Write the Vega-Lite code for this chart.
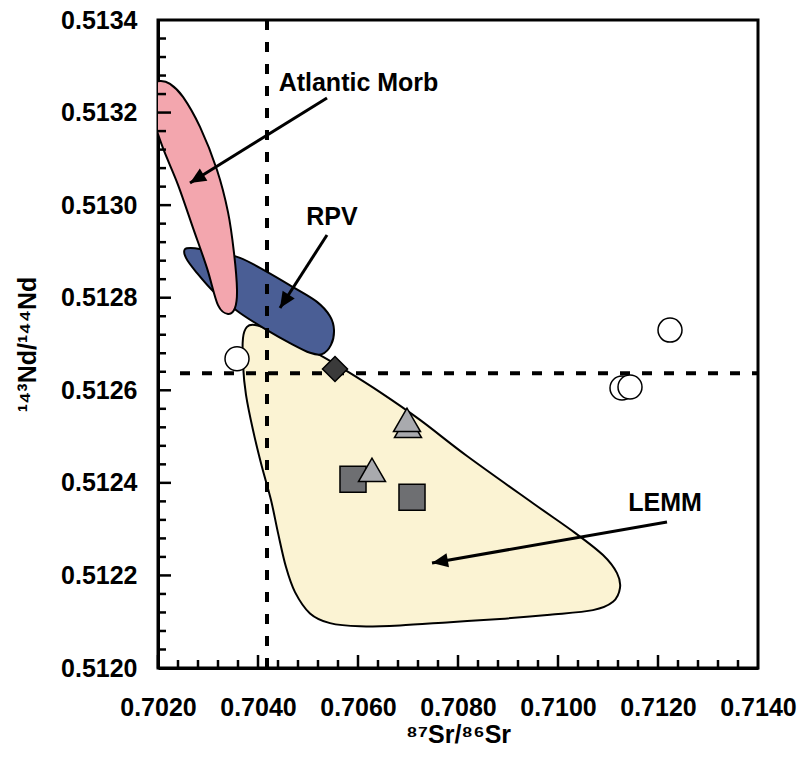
{
  "$schema": "https://vega.github.io/schema/vega-lite/v6.json",
  "width": 600,
  "height": 648,
  "autosize": {"type": "none"},
  "padding": {"left": 158, "top": 20, "right": 41, "bottom": 92},
  "background": "white",
  "view": {"stroke": "black", "strokeWidth": 3},
  "config": {
    "axis": {
      "domainColor": "black", "domainWidth": 3, "ticks": false,
      "labelFont": "Liberation Sans", "labelFontWeight": "bold", "labelFontSize": 25, "labelColor": "black",
      "titleFont": "Liberation Sans", "titleFontWeight": "bold", "titleFontSize": 25, "titleColor": "black",
      "grid": false, "labelFlush": false, "labelOverlap": false
    }
  },
  "datasets": {
    "regions": [
      {"shape": "LEMM", "i": 1, "x": 0.7037, "y": 0.512713},
      {"shape": "LEMM", "i": 2, "x": 0.70378, "y": 0.512737},
      {"shape": "LEMM", "i": 3, "x": 0.70394, "y": 0.512741},
      {"shape": "LEMM", "i": 4, "x": 0.70424, "y": 0.51273},
      {"shape": "LEMM", "i": 5, "x": 0.70474, "y": 0.512704},
      {"shape": "LEMM", "i": 6, "x": 0.70524, "y": 0.512676},
      {"shape": "LEMM", "i": 7, "x": 0.70574, "y": 0.512644},
      {"shape": "LEMM", "i": 8, "x": 0.70644, "y": 0.512596},
      {"shape": "LEMM", "i": 9, "x": 0.70724, "y": 0.512536},
      {"shape": "LEMM", "i": 10, "x": 0.70818, "y": 0.512458},
      {"shape": "LEMM", "i": 11, "x": 0.7095, "y": 0.512356},
      {"shape": "LEMM", "i": 12, "x": 0.71034, "y": 0.512292},
      {"shape": "LEMM", "i": 13, "x": 0.7109, "y": 0.512244},
      {"shape": "LEMM", "i": 14, "x": 0.71118, "y": 0.512205},
      {"shape": "LEMM", "i": 15, "x": 0.71124, "y": 0.512173},
      {"shape": "LEMM", "i": 16, "x": 0.7111, "y": 0.512143},
      {"shape": "LEMM", "i": 17, "x": 0.7107, "y": 0.512125},
      {"shape": "LEMM", "i": 18, "x": 0.70984, "y": 0.512115},
      {"shape": "LEMM", "i": 19, "x": 0.70884, "y": 0.512106},
      {"shape": "LEMM", "i": 20, "x": 0.70784, "y": 0.512099},
      {"shape": "LEMM", "i": 21, "x": 0.70684, "y": 0.512092},
      {"shape": "LEMM", "i": 22, "x": 0.70604, "y": 0.51209},
      {"shape": "LEMM", "i": 23, "x": 0.70544, "y": 0.512097},
      {"shape": "LEMM", "i": 24, "x": 0.70504, "y": 0.512118},
      {"shape": "LEMM", "i": 25, "x": 0.70474, "y": 0.512164},
      {"shape": "LEMM", "i": 26, "x": 0.70456, "y": 0.512218},
      {"shape": "LEMM", "i": 27, "x": 0.7044, "y": 0.512292},
      {"shape": "LEMM", "i": 28, "x": 0.70426, "y": 0.512363},
      {"shape": "LEMM", "i": 29, "x": 0.70408, "y": 0.512434},
      {"shape": "LEMM", "i": 30, "x": 0.7039, "y": 0.512514},
      {"shape": "LEMM", "i": 31, "x": 0.70376, "y": 0.51259},
      {"shape": "LEMM", "i": 32, "x": 0.7037, "y": 0.512655},
      {"shape": "RPV", "i": 1, "x": 0.70254, "y": 0.512905},
      {"shape": "RPV", "i": 2, "x": 0.70274, "y": 0.512907},
      {"shape": "RPV", "i": 3, "x": 0.70314, "y": 0.512899},
      {"shape": "RPV", "i": 4, "x": 0.70364, "y": 0.512886},
      {"shape": "RPV", "i": 5, "x": 0.70418, "y": 0.512856},
      {"shape": "RPV", "i": 6, "x": 0.7047, "y": 0.512823},
      {"shape": "RPV", "i": 7, "x": 0.70518, "y": 0.512791},
      {"shape": "RPV", "i": 8, "x": 0.70544, "y": 0.51276},
      {"shape": "RPV", "i": 9, "x": 0.70552, "y": 0.51273},
      {"shape": "RPV", "i": 10, "x": 0.70546, "y": 0.512698},
      {"shape": "RPV", "i": 11, "x": 0.70528, "y": 0.512678},
      {"shape": "RPV", "i": 12, "x": 0.70504, "y": 0.512681},
      {"shape": "RPV", "i": 13, "x": 0.70464, "y": 0.512702},
      {"shape": "RPV", "i": 14, "x": 0.70418, "y": 0.51273},
      {"shape": "RPV", "i": 15, "x": 0.70364, "y": 0.512767},
      {"shape": "RPV", "i": 16, "x": 0.70314, "y": 0.51281},
      {"shape": "RPV", "i": 17, "x": 0.70276, "y": 0.512856},
      {"shape": "RPV", "i": 18, "x": 0.70256, "y": 0.512886},
      {"shape": "MORB", "i": 1, "x": 0.70188, "y": 0.51326},
      {"shape": "MORB", "i": 2, "x": 0.70204, "y": 0.513268},
      {"shape": "MORB", "i": 3, "x": 0.70224, "y": 0.513262},
      {"shape": "MORB", "i": 4, "x": 0.7025, "y": 0.513234},
      {"shape": "MORB", "i": 5, "x": 0.70284, "y": 0.513169},
      {"shape": "MORB", "i": 6, "x": 0.70318, "y": 0.513076},
      {"shape": "MORB", "i": 7, "x": 0.7034, "y": 0.512985},
      {"shape": "MORB", "i": 8, "x": 0.70352, "y": 0.512897},
      {"shape": "MORB", "i": 9, "x": 0.70358, "y": 0.512817},
      {"shape": "MORB", "i": 10, "x": 0.70354, "y": 0.512778},
      {"shape": "MORB", "i": 11, "x": 0.7034, "y": 0.512765},
      {"shape": "MORB", "i": 12, "x": 0.7032, "y": 0.512784},
      {"shape": "MORB", "i": 13, "x": 0.70298, "y": 0.512864},
      {"shape": "MORB", "i": 14, "x": 0.7027, "y": 0.512951},
      {"shape": "MORB", "i": 15, "x": 0.7024, "y": 0.513044},
      {"shape": "MORB", "i": 16, "x": 0.7021, "y": 0.513123},
      {"shape": "MORB", "i": 17, "x": 0.7019, "y": 0.513188},
      {"shape": "MORB", "i": 18, "x": 0.70182, "y": 0.513231}
    ],
    "points": [
      {"type": "circle", "x": 0.70358, "y": 0.512668},
      {"type": "circle", "x": 0.71224, "y": 0.51273},
      {"type": "circle", "x": 0.71128, "y": 0.512605},
      {"type": "circle", "x": 0.71144, "y": 0.512607},
      {"type": "diamond", "x": 0.70554, "y": 0.512646},
      {"type": "square", "x": 0.7059, "y": 0.512408},
      {"type": "square", "x": 0.70708, "y": 0.512369},
      {"type": "triangle", "x": 0.70628, "y": 0.512428},
      {"type": "triangle", "x": 0.707, "y": 0.512523},
      {"type": "triangle", "x": 0.70698, "y": 0.512536}
    ],
    "arrows": [
      {"name": "MORB", "x": 0.70538, "y": 0.5132315, "x2": 0.70264, "y2": 0.5130478},
      {"name": "RPV", "x": 0.70538, "y": 0.5129355, "x2": 0.70444, "y2": 0.5127778},
      {"name": "LEMM", "x": 0.71218, "y": 0.5123154, "x2": 0.70748, "y2": 0.5122269}
    ],
    "labels": [
      {"label": "Atlantic Morb", "x": 0.70601, "y": 0.513264},
      {"label": "RPV", "x": 0.70548, "y": 0.512974},
      {"label": "LEMM", "x": 0.71214, "y": 0.512357}
    ],
    "xticks": [
      {"v": 0.702, "kind": "major"}, {"v": 0.7024, "kind": "minor"}, {"v": 0.7028, "kind": "minor"}, {"v": 0.7032, "kind": "minor"}, {"v": 0.7036, "kind": "minor"},
      {"v": 0.704, "kind": "major"}, {"v": 0.7044, "kind": "minor"}, {"v": 0.7048, "kind": "minor"}, {"v": 0.7052, "kind": "minor"}, {"v": 0.7056, "kind": "minor"},
      {"v": 0.706, "kind": "major"}, {"v": 0.7064, "kind": "minor"}, {"v": 0.7068, "kind": "minor"}, {"v": 0.7072, "kind": "minor"}, {"v": 0.7076, "kind": "minor"},
      {"v": 0.708, "kind": "major"}, {"v": 0.7084, "kind": "minor"}, {"v": 0.7088, "kind": "minor"}, {"v": 0.7092, "kind": "minor"}, {"v": 0.7096, "kind": "minor"},
      {"v": 0.71, "kind": "major"}, {"v": 0.7104, "kind": "minor"}, {"v": 0.7108, "kind": "minor"}, {"v": 0.7112, "kind": "minor"}, {"v": 0.7116, "kind": "minor"},
      {"v": 0.712, "kind": "major"}, {"v": 0.7124, "kind": "minor"}, {"v": 0.7128, "kind": "minor"}, {"v": 0.7132, "kind": "minor"}, {"v": 0.7136, "kind": "minor"}
    ],
    "yticks": [
      {"v": 0.51204, "kind": "minor"}, {"v": 0.51208, "kind": "minor"}, {"v": 0.51212, "kind": "minor"}, {"v": 0.51216, "kind": "minor"},
      {"v": 0.5122, "kind": "major"}, {"v": 0.51224, "kind": "minor"}, {"v": 0.51228, "kind": "minor"}, {"v": 0.51232, "kind": "minor"}, {"v": 0.51236, "kind": "minor"},
      {"v": 0.5124, "kind": "major"}, {"v": 0.51244, "kind": "minor"}, {"v": 0.51248, "kind": "minor"}, {"v": 0.51252, "kind": "minor"}, {"v": 0.51256, "kind": "minor"},
      {"v": 0.5126, "kind": "major"}, {"v": 0.51264, "kind": "minor"}, {"v": 0.51268, "kind": "minor"}, {"v": 0.51272, "kind": "minor"}, {"v": 0.51276, "kind": "minor"},
      {"v": 0.5128, "kind": "major"}, {"v": 0.51284, "kind": "minor"}, {"v": 0.51288, "kind": "minor"}, {"v": 0.51292, "kind": "minor"}, {"v": 0.51296, "kind": "minor"},
      {"v": 0.513, "kind": "major"}, {"v": 0.51304, "kind": "minor"}, {"v": 0.51308, "kind": "minor"}, {"v": 0.51312, "kind": "minor"}, {"v": 0.51316, "kind": "minor"},
      {"v": 0.5132, "kind": "major"}, {"v": 0.51324, "kind": "minor"}, {"v": 0.51328, "kind": "minor"}, {"v": 0.51332, "kind": "minor"}, {"v": 0.51336, "kind": "minor"}
    ]
  },
  "layer": [
    {
      "data": {"name": "regions"},
      "transform": [{"filter": "datum.shape === 'LEMM'"}],
      "mark": {"type": "line", "interpolate": "cardinal-closed", "fill": "#FBF3D3", "stroke": "black", "strokeWidth": 2, "clip": true},
      "encoding": {
        "x": {"field": "x", "type": "quantitative", "scale": {"domain": [0.702, 0.714], "nice": false, "zero": false},
          "axis": {"title": "⁸⁷Sr/⁸⁶Sr", "titlePadding": 2,
            "values": [0.702, 0.704, 0.706, 0.708, 0.71, 0.712, 0.714],
            "format": ".4f",
            "labelPadding": 27}},
        "y": {"field": "y", "type": "quantitative", "scale": {"domain": [0.512, 0.5134], "nice": false, "zero": false},
          "axis": {"title": "¹⁴³Nd/¹⁴⁴Nd", "titlePadding": 20,
            "values": [0.512, 0.5122, 0.5124, 0.5126, 0.5128, 0.513, 0.5132, 0.5134],
            "format": ".4f",
            "labelPadding": 21}},
        "order": {"field": "i", "type": "quantitative"}
      }
    },
    {
      "data": {"name": "regions"},
      "transform": [{"filter": "datum.shape === 'RPV'"}],
      "mark": {"type": "line", "interpolate": "cardinal-closed", "fill": "#4A5E95", "stroke": "black", "strokeWidth": 2, "clip": true},
      "encoding": {
        "x": {"field": "x", "type": "quantitative"},
        "y": {"field": "y", "type": "quantitative"},
        "order": {"field": "i", "type": "quantitative"}
      }
    },
    {
      "data": {"name": "regions"},
      "transform": [{"filter": "datum.shape === 'MORB'"}],
      "mark": {"type": "line", "interpolate": "cardinal-closed", "fill": "#F3A6AE", "stroke": "black", "strokeWidth": 2, "clip": true},
      "encoding": {
        "x": {"field": "x", "type": "quantitative"},
        "y": {"field": "y", "type": "quantitative"},
        "order": {"field": "i", "type": "quantitative"}
      }
    },
    {
      "data": {"name": "xticks"},
      "transform": [{"filter": "datum.kind === 'major'"}],
      "mark": {"type": "rule", "color": "black", "strokeWidth": 2.5},
      "encoding": {
        "x": {"field": "v", "type": "quantitative"},
        "y": {"datum": 0.512, "type": "quantitative"},
        "y2": {"datum": 0.5120281}
      }
    },
    {
      "data": {"name": "xticks"},
      "transform": [{"filter": "datum.kind === 'minor'"}],
      "mark": {"type": "rule", "color": "black", "strokeWidth": 2.5},
      "encoding": {
        "x": {"field": "v", "type": "quantitative"},
        "y": {"datum": 0.512, "type": "quantitative"},
        "y2": {"datum": 0.5120173}
      }
    },
    {
      "data": {"name": "yticks"},
      "transform": [{"filter": "datum.kind === 'major'"}],
      "mark": {"type": "rule", "color": "black", "strokeWidth": 2.5},
      "encoding": {
        "y": {"field": "v", "type": "quantitative"},
        "x": {"datum": 0.702, "type": "quantitative"},
        "x2": {"datum": 0.70226}
      }
    },
    {
      "data": {"name": "yticks"},
      "transform": [{"filter": "datum.kind === 'minor'"}],
      "mark": {"type": "rule", "color": "black", "strokeWidth": 2.5},
      "encoding": {
        "y": {"field": "v", "type": "quantitative"},
        "x": {"datum": 0.702, "type": "quantitative"},
        "x2": {"datum": 0.70216}
      }
    },
    {
      "data": {"values": [{"x": 0.70418}]},
      "mark": {"type": "rule", "color": "black", "strokeWidth": 4, "strokeDash": [10, 12]},
      "encoding": {"x": {"field": "x", "type": "quantitative"}}
    },
    {
      "data": {"values": [{"x": 0.70244, "x2": 0.714, "y": 0.512637}]},
      "mark": {"type": "rule", "color": "black", "strokeWidth": 4, "strokeDash": [10, 12]},
      "encoding": {
        "x": {"field": "x", "type": "quantitative"},
        "x2": {"field": "x2"},
        "y": {"field": "y", "type": "quantitative"}
      }
    },
    {
      "data": {"name": "arrows"},
      "mark": {"type": "rule", "color": "black", "strokeWidth": 3},
      "encoding": {
        "x": {"field": "x", "type": "quantitative"},
        "y": {"field": "y", "type": "quantitative"},
        "x2": {"field": "x2"},
        "y2": {"field": "y2"}
      }
    },
    {
      "data": {"name": "arrows"},
      "transform": [{"filter": "datum.name === 'MORB'"}],
      "mark": {"type": "point", "shape": "M0,0L-2,-0.9L-2,0.9Z", "filled": true, "color": "black", "opacity": 1, "size": 256, "angle": 148.2},
      "encoding": {"x": {"field": "x2", "type": "quantitative"}, "y": {"field": "y2", "type": "quantitative"}}
    },
    {
      "data": {"name": "arrows"},
      "transform": [{"filter": "datum.name === 'RPV'"}],
      "mark": {"type": "point", "shape": "M0,0L-2,-0.9L-2,0.9Z", "filled": true, "color": "black", "opacity": 1, "size": 256, "angle": 122.8},
      "encoding": {"x": {"field": "x2", "type": "quantitative"}, "y": {"field": "y2", "type": "quantitative"}}
    },
    {
      "data": {"name": "arrows"},
      "transform": [{"filter": "datum.name === 'LEMM'"}],
      "mark": {"type": "point", "shape": "M0,0L-2,-0.9L-2,0.9Z", "filled": true, "color": "black", "opacity": 1, "size": 256, "angle": 170.1},
      "encoding": {"x": {"field": "x2", "type": "quantitative"}, "y": {"field": "y2", "type": "quantitative"}}
    },
    {
      "data": {"name": "points"},
      "mark": {"type": "point", "filled": true, "opacity": 1, "stroke": "black", "strokeWidth": 1.5},
      "encoding": {
        "x": {"field": "x", "type": "quantitative"},
        "y": {"field": "y", "type": "quantitative"},
        "shape": {"field": "type", "type": "nominal", "legend": null,
          "scale": {"domain": ["circle", "diamond", "square", "triangle"], "range": ["circle", "diamond", "square", "triangle-up"]}},
        "fill": {"field": "type", "type": "nominal", "legend": null,
          "scale": {"domain": ["circle", "diamond", "square", "triangle"], "range": ["#ffffff", "#3a3a3a", "#6e6f72", "#a9aaae"]}},
        "size": {"field": "type", "type": "ordinal", "legend": null,
          "scale": {"domain": ["circle", "diamond", "square", "triangle"], "range": [576, 729, 625, 900]}}
      }
    },
    {
      "data": {"name": "labels"},
      "mark": {"type": "text", "font": "Liberation Sans", "fontWeight": "bold", "fontSize": 25, "color": "black", "align": "center", "baseline": "middle"},
      "encoding": {
        "x": {"field": "x", "type": "quantitative"},
        "y": {"field": "y", "type": "quantitative"},
        "text": {"field": "label"}
      }
    }
  ]
}
